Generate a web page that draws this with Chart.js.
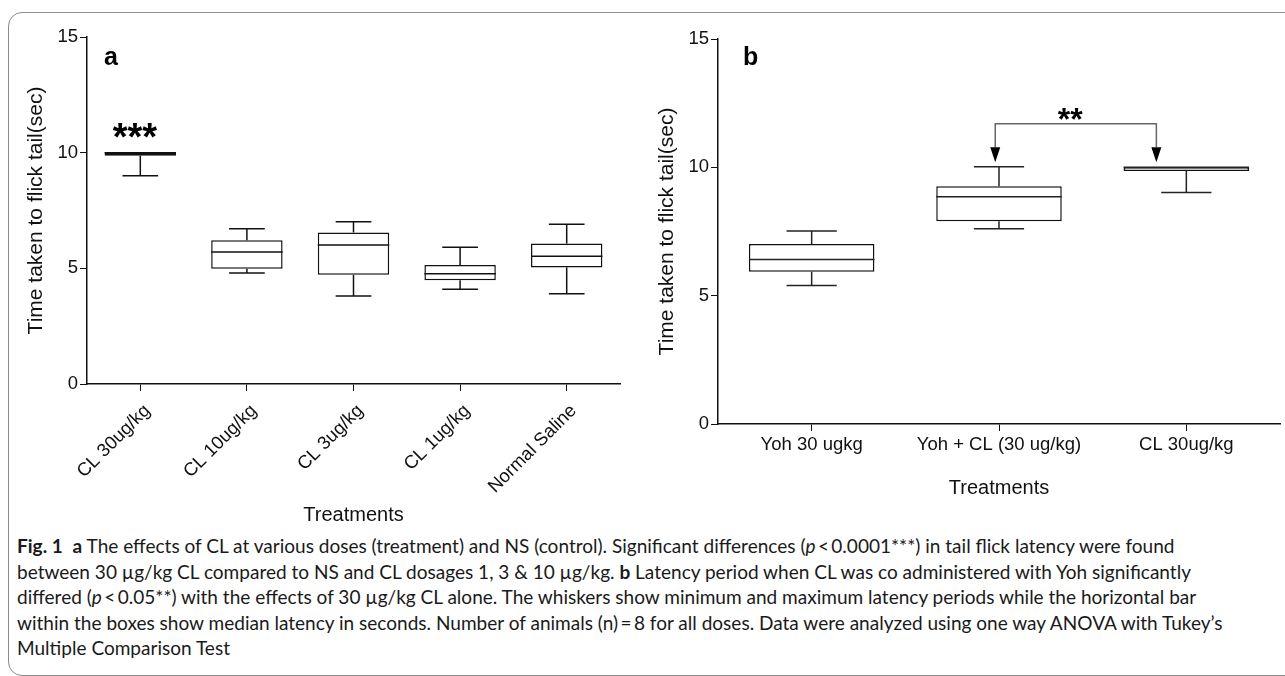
<!DOCTYPE html>
<html>
<head>
<meta charset="utf-8">
<script src="https://cdn.jsdelivr.net/npm/chart.js@4/dist/chart.umd.min.js"></script>
<style>
  html, body { margin: 0; padding: 0; background: #fff; }
  body { width: 1285px; height: 676px; position: relative; overflow: hidden; }
  .frame {
    position: absolute; left: 8px; top: 12px; width: 1320px; height: 662px;
    border: 1.5px solid #8c8c8c; border-radius: 14px;
  }
  #boxA { position: absolute; left: 0; top: 0; width: 640px; height: 531px; }
  #boxB { position: absolute; left: 640px; top: 0; width: 645px; height: 504px; }
  .caption {
    position: absolute; left: 17px; top: 533px;
    font-family: Lato, "Noto Sans", sans-serif;
    font-size: 17px; line-height: 25.5px; color: #1a1a1a; white-space: nowrap;
  }
  .caption div { display: block; }
  .caption span.l { display: inline-block; }
</style>
</head>
<body>
<div class="frame"></div>
<div id="boxA"><canvas id="chartA"></canvas></div>
<div id="boxB"><canvas id="chartB"></canvas></div>
<div class="caption" id="caption">
  <div><span class="l"><b>Fig. 1</b>&nbsp; <b>a</b> The effects of CL at various doses (treatment) and NS (control). Significant differences (<i>p</i>&thinsp;&lt;&thinsp;0.0001***) in tail flick latency were found</span></div>
  <div><span class="l">between 30 µg/kg CL compared to NS and CL dosages 1, 3 &amp; 10 µg/kg. <b>b</b> Latency period when CL was co administered with Yoh significantly</span></div>
  <div><span class="l">differed (<i>p</i>&thinsp;&lt;&thinsp;0.05**) with the effects of 30 µg/kg CL alone. The whiskers show minimum and maximum latency periods while the horizontal bar</span></div>
  <div><span class="l">within the boxes show median latency in seconds. Number of animals (n)&thinsp;=&thinsp;8 for all doses. Data were analyzed using one way ANOVA with Tukey’s</span></div>
  <div>Multiple Comparison Test</div>
</div>
<script>
// panel a: tail flick latency per dose
const catsA = ['CL 30ug/kg', 'CL 10ug/kg', 'CL 3ug/kg', 'CL 1ug/kg', 'Normal Saline'];
const minA = [9.0, 4.8, 3.8, 4.1, 3.9];
const q1A = [9.87, 4.98, 4.72, 4.48, 5.04];
const medA = [10.0, 5.71, 6.01, 4.77, 5.52];
const q3A = [10.0, 6.21, 6.55, 5.14, 6.07];
const maxA = [10.0, 6.71, 7.01, 5.91, 6.91];

// panel b: Yoh co-administration
const catsB = ['Yoh 30 ugkg', 'Yoh + CL (30 ug/kg)', 'CL 30ug/kg'];
const minB = [5.4, 7.61, 9.02];
const q1B = [5.93, 7.9, 9.86];
const medB = [6.41, 8.85, 10.0];
const q3B = [7.01, 9.26, 10.0];
const maxB = [7.52, 10.02, 10.0];

const yTicks = [0, 5, 10, 15];

const FONT = '"Liberation Sans", Arial, Helvetica, sans-serif';
Chart.defaults.font.family = FONT;
Chart.defaults.color = '#111';

// whiskers + median line on top of the floating Q1-Q3 bars
const boxWhiskers = {
  id: 'boxWhiskers',
  afterDatasetsDraw(chart, args, opts) {
    const ctx = chart.ctx;
    const y = chart.scales.y;
    const meta = chart.getDatasetMeta(0);
    const data = chart.data.datasets[0].data;
    const line = (x1, y1, x2, y2) => { ctx.beginPath(); ctx.moveTo(x1, y1); ctx.lineTo(x2, y2); ctx.stroke(); };
    ctx.save();
    ctx.strokeStyle = opts.color;
    meta.data.forEach((bar, i) => {
      const x = bar.x;
      const half = bar.width / 2;
      const cap = bar.width * opts.capRatio / 2;
      const [q1, q3] = data[i];
      ctx.lineWidth = opts.lineWidth;
      if (opts.max[i] > q3) {
        line(x, y.getPixelForValue(q3), x, y.getPixelForValue(opts.max[i]));
        line(x - cap, y.getPixelForValue(opts.max[i]), x + cap, y.getPixelForValue(opts.max[i]));
      }
      if (opts.min[i] < q1) {
        line(x, y.getPixelForValue(q1), x, y.getPixelForValue(opts.min[i]));
        line(x - cap, y.getPixelForValue(opts.min[i]), x + cap, y.getPixelForValue(opts.min[i]));
      }
      ctx.lineWidth = opts.medianWidth;
      line(x - half, y.getPixelForValue(opts.med[i]), x + half, y.getPixelForValue(opts.med[i]));
    });
    ctx.restore();
  }
};

// panel letter, significance stars and bracket
const panelNotes = {
  id: 'panelNotes',
  afterDraw(chart, args, opts) {
    const { ctx, chartArea } = chart;
    const x = chart.scales.x, y = chart.scales.y;
    ctx.save();
    ctx.fillStyle = '#000';
    ctx.textAlign = 'left';
    ctx.textBaseline = 'alphabetic';
    ctx.font = 'bold 25px ' + FONT;
    ctx.fillText(opts.letter, chartArea.left + opts.letterDx, chartArea.top + opts.letterDy);

    if (opts.stars) {
      const s = opts.stars;
      ctx.font = 'bold ' + s.size + 'px ' + FONT;
      ctx.textAlign = 'center';
      ctx.fillText(s.text, x.getPixelForValue(s.at), y.getPixelForValue(s.value) + s.size * 0.55);
    }

    if (opts.bracket) {
      const b = opts.bracket;
      const x1 = x.getPixelForValue(b.from), x2 = x.getPixelForValue(b.to);
      const yb = y.getPixelForValue(b.value), yt = y.getPixelForValue(b.tip);
      const headH = 15, headW = 5;
      ctx.strokeStyle = '#666';
      ctx.lineWidth = 1.5;
      ctx.beginPath();
      ctx.moveTo(x1, yt - headH);
      ctx.lineTo(x1, yb);
      ctx.lineTo(x2, yb);
      ctx.lineTo(x2, yt - headH);
      ctx.stroke();
      [x1, x2].forEach(px => {
        ctx.beginPath();
        ctx.moveTo(px - headW, yt - headH);
        ctx.lineTo(px + headW, yt - headH);
        ctx.lineTo(px, yt);
        ctx.closePath();
        ctx.fill();
      });
    }
    ctx.restore();
  }
};

function makeScales(yWidth, xHeight, rotation) {
  return {
    x: {
      grid: { display: true, drawOnChartArea: false, drawTicks: true, tickLength: 7, color: '#111', offset: false },
      border: { display: true, color: '#111', width: 1.5 },
      ticks: rotation
        ? { font: { size: 18.5 }, color: '#111', padding: 9, labelOffset: 7, minRotation: rotation, maxRotation: rotation, autoSkip: false }
        : { font: { size: 18.5 }, color: '#111', padding: 3, maxRotation: 0, autoSkip: false },
      title: { display: true, text: 'Treatments', font: { size: 20 }, color: '#111' },
      afterFit(s) { s.height = xHeight; }
    },
    y: {
      min: 0, max: 15,
      afterBuildTicks(s) { s.ticks = yTicks.map(v => ({ value: v })); },
      grid: { display: true, drawOnChartArea: false, drawTicks: true, tickLength: 7, color: '#111' },
      border: { display: true, color: '#111', width: 1.5 },
      ticks: { font: { size: 18.5 }, color: '#111', padding: 2 },
      title: { display: true, text: 'Time taken to flick tail(sec)', font: { size: 21 }, color: '#111' },
      afterFit(s) { s.width = yWidth; }
    }
  };
}

function createPanelA() {
  new Chart(document.getElementById('chartA'), {
    type: 'bar',
    data: {
      labels: catsA,
      datasets: [{
        data: q1A.map((v, i) => [v, q3A[i]]),
        backgroundColor: '#fff',
        borderColor: '#111',
        borderWidth: 1.5,
        borderSkipped: false,
        categoryPercentage: 1,
        barPercentage: 0.67
      }]
    },
    options: {
      responsive: true,
      maintainAspectRatio: false,
      animation: false,
      layout: { padding: { left: 20, top: 37, right: 20, bottom: 0 } },
      plugins: {
        legend: { display: false },
        tooltip: { enabled: false },
        boxWhiskers: { min: minA, max: maxA, med: medA, capRatio: 0.5, color: '#111', lineWidth: 1.5, medianWidth: 1.5 },
        panelNotes: { letter: 'a', letterDx: 17, letterDy: 28, stars: { text: '***', at: -0.05, value: 11.02, size: 38 } }
      },
      scales: makeScales(67, 147, 45)
    },
    plugins: [boxWhiskers, panelNotes]
  });
}

function createPanelB() {
  new Chart(document.getElementById('chartB'), {
    type: 'bar',
    data: {
      labels: catsB,
      datasets: [{
        data: q1B.map((v, i) => [v, q3B[i]]),
        backgroundColor: '#fff',
        borderColor: '#111',
        borderWidth: 1.5,
        borderSkipped: false,
        categoryPercentage: 1,
        barPercentage: 0.67
      }]
    },
    options: {
      responsive: true,
      maintainAspectRatio: false,
      animation: false,
      layout: { padding: { left: 11, top: 39, right: 5, bottom: 0 } },
      plugins: {
        legend: { display: false },
        tooltip: { enabled: false },
        boxWhiskers: { min: minB, max: maxB, med: medB, capRatio: 0.4, color: '#222', lineWidth: 1.5, medianWidth: 1.5 },
        panelNotes: {
          letter: 'b', letterDx: 25, letterDy: 26,
          stars: { text: '**', at: 1.38, value: 12.15, size: 32 },
          bracket: { from: 0.98, to: 1.84, value: 11.7, tip: 10.2 }
        }
      },
      scales: makeScales(67, 80, 0)
    },
    plugins: [boxWhiskers, panelNotes]
  });
}

// fit the caption to the width of the printed text block (lines 1-4 together)
function fitCaption() {
  const cap = document.getElementById('caption');
  let total = 0;
  cap.querySelectorAll('span.l').forEach(s => { total += s.getBoundingClientRect().width; });
  const target = 1174 + 1195 + 1181 + 1170;
  cap.style.fontSize = (17 * target / total).toFixed(2) + 'px';
}

fitCaption();
createPanelA();
createPanelB();
</script>
</body>
</html>
